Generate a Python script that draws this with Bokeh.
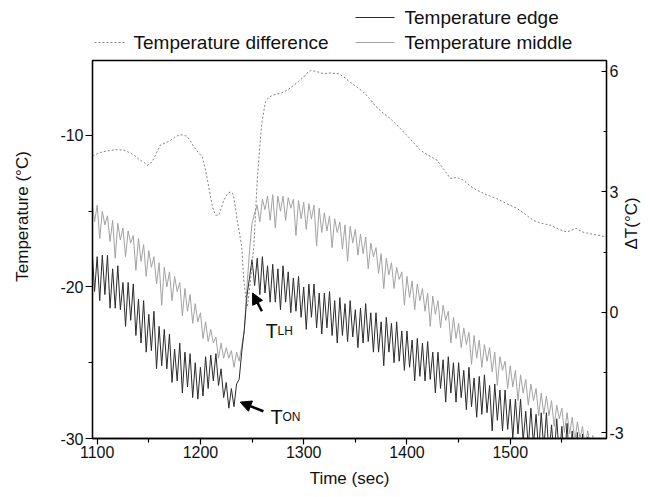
import math
import numpy as np
from bokeh.plotting import figure
from bokeh.models import Range1d, LinearAxis, FixedTicker, Arrow, NormalHead, Label
from bokeh.layouts import column
from bokeh.embed import file_html
from bokeh.resources import INLINE
from bokeh.core.properties import value

# ---------------- data ----------------
time_s = np.arange(1095.0, 1593.0, 2.5)   # sampling instants (s)

temp_middle = [
    -14.3, -15.7, -14.6, -16.8, -15.0, -15.9, -15.3, -17.0, -15.6, -18.1,
    -15.8, -16.9, -16.1, -18.0, -16.3, -17.1, -16.6, -18.9, -16.8, -18.3,
    -17.2, -19.3, -17.6, -18.7, -18.0, -19.8, -18.4, -21.2, -18.7, -20.0,
    -19.0, -20.9, -19.3, -20.3, -19.7, -21.9, -20.1, -21.6, -20.5, -22.4,
    -21.1, -22.3, -21.7, -23.4, -22.3, -23.6, -22.8, -23.7, -23.3, -24.7,
    -23.7, -24.7, -24.0, -24.7, -24.2, -25.3, -24.3, -24.9, -23.9, -22.9,
    -20.1, -17.6, -15.8, -15.1, -14.6, -15.7, -14.2, -14.9, -14.0, -15.6,
    -13.9, -16.1, -14.0, -15.0, -14.0, -15.6, -14.1, -14.8, -14.2, -16.6,
    -14.3, -15.5, -14.4, -16.2, -14.5, -15.5, -14.6, -17.3, -14.8, -16.4,
    -15.1, -16.3, -15.3, -17.4, -15.5, -16.4, -15.7, -17.5, -15.9, -18.3,
    -16.0, -17.1, -16.2, -17.9, -16.5, -17.8, -16.7, -18.8, -17.1, -18.0,
    -17.4, -19.1, -17.8, -20.1, -18.1, -19.2, -18.4, -20.1, -18.7, -19.5,
    -19.0, -21.2, -19.3, -20.7, -19.6, -21.5, -19.8, -20.9, -20.1, -21.6,
    -20.4, -22.6, -20.6, -21.8, -20.9, -22.7, -21.2, -22.2, -21.6, -23.7,
    -22.0, -23.4, -22.4, -24.0, -22.7, -23.8, -23.0, -25.1, -23.2, -24.7,
    -23.5, -25.3, -23.8, -24.9, -24.0, -25.6, -24.3, -26.5, -24.6, -25.5,
    -24.9, -26.7, -25.2, -26.6, -25.5, -27.5, -25.8, -27.0, -26.1, -27.8,
    -26.4, -27.5, -26.7, -28.5, -27.0, -28.4, -27.2, -28.5, -27.5, -29.2,
    -27.8, -28.7, -28.0, -29.6, -28.3, -29.7, -28.6, -30.2, -28.9, -30.0,
    -29.2, -30.6, -29.5, -30.5, -29.8, -31.0, -30.1, -31.1, -30.4, -31.6,
]

temp_edge = [
    -17.4, -20.3, -18.0, -20.9, -17.9, -20.5, -17.9, -21.4, -18.8, -21.4,
    -18.6, -21.5, -19.7, -22.6, -19.7, -22.2, -19.8, -23.2, -20.8, -23.7,
    -20.9, -24.3, -21.8, -24.2, -21.6, -25.4, -22.6, -25.2, -22.8, -25.4,
    -23.1, -26.3, -24.1, -26.2, -23.7, -27.0, -24.3, -26.6, -24.4, -27.3,
    -25.0, -27.4, -25.3, -27.2, -24.6, -26.7, -24.5, -26.2, -24.4, -26.5,
    -25.4, -27.3, -26.3, -28.0, -26.7, -27.9, -26.4, -26.1, -24.3, -22.8,
    -20.6, -19.4, -18.2, -19.9, -18.1, -20.5, -18.0, -20.4, -18.6, -21.0,
    -18.5, -21.0, -18.8, -21.5, -18.6, -21.0, -19.0, -21.7, -19.4, -21.6,
    -19.3, -22.0, -20.0, -22.8, -19.8, -22.0, -19.8, -22.7, -20.4, -23.1,
    -20.4, -22.7, -20.3, -23.2, -20.9, -23.7, -20.7, -23.2, -21.1, -23.6,
    -20.9, -23.3, -21.5, -24.0, -21.4, -23.7, -21.1, -23.6, -21.7, -24.3,
    -21.7, -24.3, -22.3, -25.2, -22.0, -24.3, -22.4, -25.0, -22.3, -24.9,
    -22.9, -25.5, -22.9, -25.3, -23.5, -26.2, -23.4, -25.9, -23.7, -26.2,
    -23.6, -26.1, -24.3, -27.0, -24.3, -26.7, -24.8, -27.6, -24.6, -27.0,
    -25.0, -27.6, -25.0, -27.3, -25.5, -28.1, -25.3, -27.9, -26.0, -28.6,
    -25.9, -28.4, -25.8, -28.3, -26.5, -29.5, -26.4, -28.8, -26.8, -29.5,
    -26.8, -29.4, -27.4, -30.0, -27.4, -29.7, -27.4, -30.2, -28.2, -30.6,
    -28.0, -30.4, -28.4, -30.9, -28.3, -30.7, -28.3, -31.1, -29.1, -31.3,
    -28.7, -31.2, -29.2, -31.6, -29.0, -31.7, -29.5, -31.8, -29.6, -32.1,
    -29.7, -32.2, -29.9, -32.4, -30.6, -32.6, -30.9, -32.8, -31.3, -33.0,
]

diff_time = [
    1095.5, 1097, 1103, 1110, 1118, 1126, 1131, 1136, 1141, 1145, 1148.5, 1152,
    1155, 1158, 1161, 1166, 1171, 1175, 1179, 1183, 1187, 1190, 1193.6, 1198,
    1201.7, 1205, 1207.5, 1209.8, 1212, 1214.6, 1217.8, 1220, 1222.6, 1226, 1229,
    1231, 1232.3, 1234, 1235.6, 1238, 1240, 1242, 1244, 1245.3, 1246.5, 1248.5,
    1251.7, 1253.4, 1255, 1256.5, 1258, 1259.8, 1263, 1266, 1269.5, 1275, 1280.7,
    1285, 1290.3, 1295, 1300, 1303, 1306.5, 1312, 1319.3, 1326, 1333.8, 1340,
    1345, 1352, 1358, 1364, 1369, 1376, 1384, 1393.5, 1403, 1412.8, 1420, 1429,
    1436, 1442, 1448, 1454.7, 1461, 1467.7, 1477, 1487, 1497, 1506.4, 1514,
    1522.4, 1530, 1538.6, 1547, 1554.7, 1560, 1564, 1570, 1577, 1585, 1592.8,
]
diff_dT = [
    3.90, 3.91, 3.98, 4.02, 4.05, 4.04, 3.98, 3.91, 3.80, 3.74, 3.66, 3.72,
    3.83, 4.00, 4.16, 4.22, 4.28, 4.36, 4.41, 4.42, 4.38, 4.28, 4.12, 3.98,
    3.87, 3.54, 3.20, 2.87, 2.60, 2.42, 2.42, 2.58, 2.79, 2.95, 3.00,
    2.97, 2.87, 2.60, 2.29, 1.95, 1.63, 0.80, 0.35, 0.14, 0.35, 0.80,
    1.63, 2.47, 3.29, 3.79, 4.30, 4.78, 5.24, 5.35, 5.40, 5.44, 5.48,
    5.55, 5.65, 5.75, 5.86, 5.95, 6.02, 6.00, 5.94, 5.96, 5.94, 5.84,
    5.73, 5.60, 5.48, 5.32, 5.15, 4.98, 4.82, 4.58, 4.32, 4.04, 3.92, 3.79,
    3.55, 3.33, 3.36, 3.29, 3.15, 3.04, 2.93, 2.83, 2.70, 2.59, 2.45,
    2.29, 2.22, 2.17, 2.07, 2.00, 2.05, 2.09, 2.00, 1.96, 1.92, 1.88,
]

x_ticks = [1100, 1200, 1300, 1400, 1500]
x_minor = [1150, 1250, 1350, 1450, 1550]
y_ticks = [-30, -20, -10]
y_minor = [-25, -15]
dt_ticks = [-3, 0, 3, 6]
dt_minor = [-1.5, 1.5, 4.5]
legend_labels = ["Temperature difference", "Temperature edge", "Temperature middle"]

# annotation anchor points (time, temperature)
tlh_tip, tlh_tail, tlh_text = (1250.5, -20.4), (1259.5, -21.6), (1263.0, -22.9)
ton_tip, ton_tail, ton_text = (1238.5, -27.6), (1261.0, -28.2), (1267.8, -28.6)

FONT = "Liberation Sans"
C_EDGE, C_MID, C_DIFF = "#2b2b2b", "#a2a2a2", "#808080"

# ---------------- layout geometry (canvas pixels) ----------------
W = 654
LEG_H = 56
MAIN_H = 438
FL, FR = 92, 606          # frame left / right
FRAME_TOP = 60            # in page pixels
FRAME_BOTTOM = 438

X0, X1 = 1095.5, 1593.2
Y0, Y1 = -30.0, -5.05

# ---------------- main plot ----------------
p = figure(width=W, height=MAIN_H, x_range=Range1d(X0, X1), y_range=Range1d(Y0, Y1),
           output_backend="svg", toolbar_location=None,
           min_border_left=FL, min_border_right=W - FR,
           min_border_top=FRAME_TOP - LEG_H,
           min_border_bottom=LEG_H + MAIN_H - FRAME_BOTTOM)
p.extra_y_ranges = {"dt": Range1d(-3.14, 6.27)}
p.xgrid.visible = False
p.ygrid.visible = False
p.outline_line_color = "black"
p.outline_line_width = 1.3

p.line(time_s, temp_middle, line_color=C_MID, line_width=1)
p.line(time_s, temp_edge, line_color=C_EDGE, line_width=1)
p.line(diff_time, diff_dT, y_range_name="dt", line_color=C_DIFF, line_width=1, line_dash="2 2")

right = LinearAxis(y_range_name="dt", axis_label="ΔT(°C)")
p.add_layout(right, "right")

xa, ya = p.xaxis[0], p.yaxis[0]
xa.ticker = FixedTicker(ticks=x_ticks, minor_ticks=x_minor)
ya.ticker = FixedTicker(ticks=y_ticks, minor_ticks=y_minor)
right.ticker = FixedTicker(ticks=dt_ticks, minor_ticks=dt_minor)
xa.major_label_overrides = {t: str(t) for t in x_ticks}
ya.major_label_overrides = {t: str(t) for t in y_ticks}
right.major_label_overrides = {t: str(t) for t in dt_ticks}
xa.axis_label = "Time (sec)"
# the reference title sits above the frame's middle: pad its start with no-break spaces
ya.axis_label = "\u00a0" * 14 + "Temperature (°C)"

for ax in (xa, ya, right):
    ax.axis_line_color = "black"
    ax.axis_line_width = 1.3
    ax.major_tick_line_color = "black"
    ax.minor_tick_line_color = "black"
    ax.major_tick_line_width = 1.2
    ax.minor_tick_line_width = 1.2
    ax.major_label_text_font = FONT
    ax.major_label_text_font_size = "16px"
    ax.major_label_text_color = "#111111"
    ax.axis_label_text_font = FONT
    ax.axis_label_text_font_size = "17px"
    ax.axis_label_text_font_style = "normal"
    ax.axis_label_text_color = "#111111"

for ax in (xa, ya):
    ax.major_tick_out = 6
    ax.major_tick_in = 0
    ax.minor_tick_out = 4
    ax.minor_tick_in = 0
xa.major_label_standoff = 1
xa.axis_label_standoff = 8
ya.major_tick_out = 7
ya.major_label_standoff = 2
ya.axis_label_standoff = 25
right.major_tick_in = 5
right.major_tick_out = 0
right.minor_tick_in = 3
right.minor_tick_out = 0
right.major_label_standoff = 3
right.axis_label_standoff = 5
if "axis_label_orientation" in right.properties():
    right.axis_label_orientation = math.pi / 2   # read bottom-to-top

# T_LH / T_ON annotations
for tip, tail in ((tlh_tip, tlh_tail), (ton_tip, ton_tail)):
    p.add_layout(Arrow(end=NormalHead(size=11, fill_color="black", line_color="black"),
                       x_start=tail[0], y_start=tail[1], x_end=tip[0], y_end=tip[1],
                       line_width=2.5, line_color="black"))
for pos, sub, off in ((tlh_text, "LH", 12), (ton_text, "ON", 12)):
    p.add_layout(Label(x=pos[0], y=pos[1], text="T", text_font=FONT,
                       text_font_size="20px", text_baseline="alphabetic", text_color="#111111"))
    p.add_layout(Label(x=pos[0], y=pos[1], x_offset=off, text=sub, text_font=FONT,
                       text_font_size="12px", text_baseline="alphabetic", text_color="#111111"))

# ---------------- legend strip (its frame is aligned with the main frame) ----------------
leg = figure(width=W, height=LEG_H, x_range=Range1d(FL, FR), y_range=Range1d(LEG_H, 0),
             output_backend="svg", toolbar_location=None, min_border=0,
             min_border_left=FL, min_border_right=W - FR,
             x_axis_type=None, y_axis_type=None, outline_line_color=None)
leg.grid.visible = False
ROW1, ROW2 = 17, 42
leg.line([86, 124], [ROW2, ROW2], line_color=C_DIFF, line_width=1.2, line_dash="2 2")
leg.line([355, 394], [ROW1, ROW1], line_color=C_EDGE, line_width=1.2)
leg.line([355, 394], [ROW2, ROW2], line_color=C_MID, line_width=1.2)
leg.text(x=[133, 404, 404], y=[ROW2, ROW1, ROW2], text=legend_labels,
         text_font=value(FONT), text_font_size="19px", text_baseline="middle",
         text_align="left", text_color="#111111")

layout = column(leg, p, spacing=0)
open("out.html", "w").write(file_html(layout, INLINE))
